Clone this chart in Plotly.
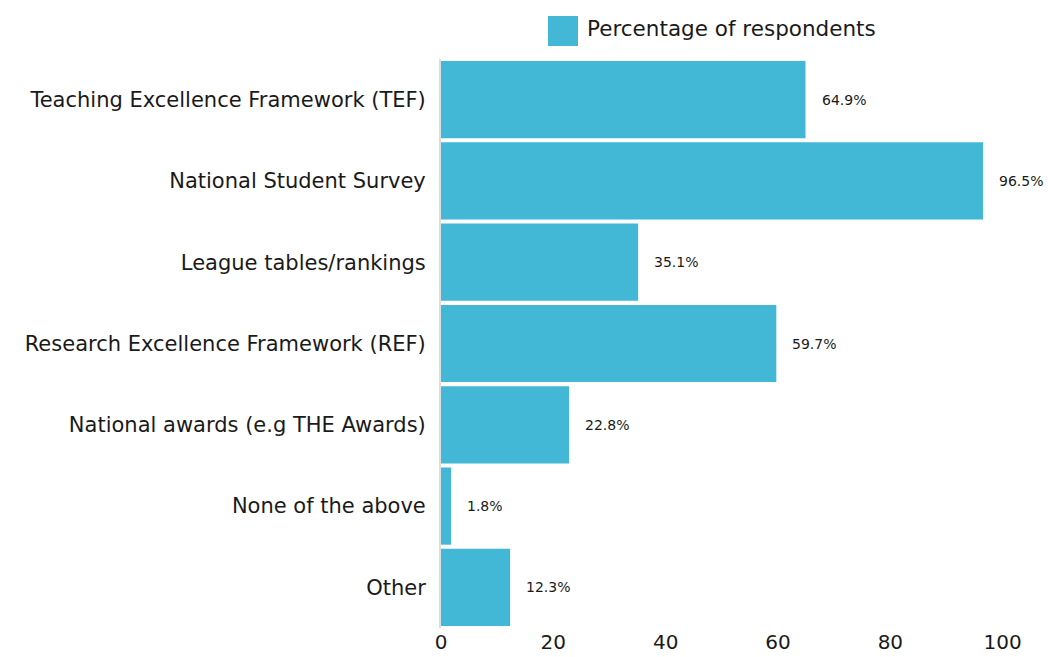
import plotly.graph_objects as go

categories = [
    "Teaching Excellence Framework (TEF)",
    "National Student Survey",
    "League tables/rankings",
    "Research Excellence Framework (REF)",
    "National awards (e.g THE Awards)",
    "None of the above",
    "Other",
]
percentages = [64.9, 96.5, 35.1, 59.7, 22.8, 1.8, 12.3]
series_name = "Percentage of respondents"
x_ticks = [0, 20, 40, 60, 80, 100]

BAR_COLOR = "#42b8d6"
TEXT_COLOR = "#1a1a1a"
FONT = "DejaVu Sans"

fig = go.Figure()
fig.add_trace(go.Bar(
    x=percentages,
    y=categories,
    orientation="h",
    name=series_name,
    marker=dict(color=BAR_COLOR, line=dict(width=0)),
    showlegend=False,
))

# value labels to the right of each bar
for cat, val in zip(categories, percentages):
    fig.add_annotation(
        x=val, y=cat, xref="x", yref="y",
        text=f"{val}%", showarrow=False,
        xanchor="left", yanchor="middle", xshift=14,
        font=dict(family=FONT, size=14, color=TEXT_COLOR),
    )

# legend swatch + label across the top
fig.add_shape(
    type="rect", xref="paper", yref="paper",
    x0=(548 - 441) / 601, x1=(578 - 441) / 601,
    y0=1 + (59 - 46) / 569, y1=1 + (59 - 16) / 569,
    fillcolor=BAR_COLOR, line=dict(width=0),
)
fig.add_annotation(
    xref="paper", yref="paper",
    x=(585 - 441) / 601, y=1 + (59 - 29) / 569,
    text=series_name, showarrow=False,
    xanchor="left", yanchor="middle",
    font=dict(family=FONT, size=21.5, color=TEXT_COLOR),
)

fig.update_layout(
    width=1048, height=657,
    template="none",
    paper_bgcolor="white", plot_bgcolor="white",
    margin=dict(l=441, r=6, t=59, b=29, autoexpand=False),
    bargap=0.05,
    font=dict(family=FONT, color=TEXT_COLOR),
    showlegend=False,
)
fig.update_xaxes(
    range=[0, 107], tickvals=x_ticks,
    showgrid=False, zeroline=False, showline=False,
    ticks="", tickfont=dict(family=FONT, size=20, color=TEXT_COLOR),
    automargin=False,
)
fig.update_yaxes(
    autorange="reversed",
    showgrid=False, zeroline=False, showline=True,
    linecolor="#dddddd", linewidth=2,
    ticks="", ticklabelstandoff=9,
    tickfont=dict(family=FONT, size=21, color=TEXT_COLOR),
    automargin=False,
)

fig.write_html("out.html")
